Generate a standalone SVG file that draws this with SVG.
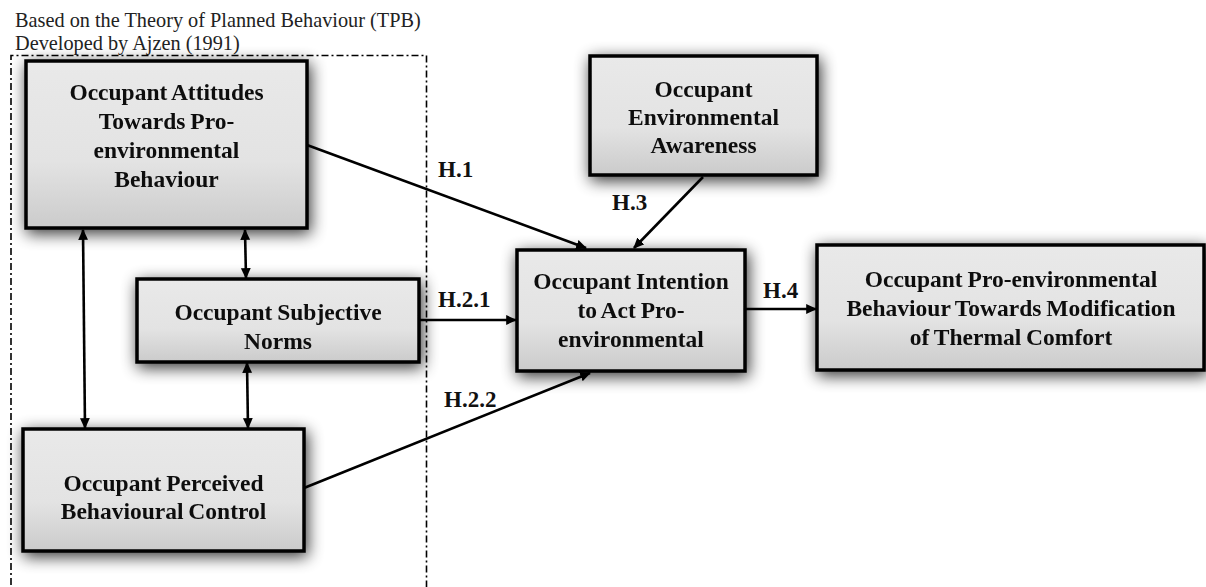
<svg xmlns="http://www.w3.org/2000/svg" width="1206" height="587" viewBox="0 0 1206 587">
<style>
.box{stroke:#000;stroke-width:3.5;fill:url(#g)}
.t{font-family:"Liberation Serif","Times New Roman",serif;font-weight:bold;font-size:23.5px;word-spacing:-1px;fill:#111;text-anchor:middle}
.lbl{font-family:"Liberation Serif","Times New Roman",serif;font-weight:bold;font-size:23px;fill:#111}
.title{font-family:"Liberation Serif","Times New Roman",serif;font-size:20.3px;fill:#222}
.c{stroke:#000;stroke-width:2.6;fill:none}
</style>
<defs>
<linearGradient id="g" x1="0" y1="0" x2="0" y2="1">
<stop offset="0" stop-color="#e9e9e9"/>
<stop offset="0.6" stop-color="#e3e3e3"/>
<stop offset="1" stop-color="#cbcbcb"/>
</linearGradient>
<filter id="sh" x="-20%" y="-30%" width="140%" height="160%">
<feGaussianBlur in="SourceAlpha" stdDeviation="8"/>
<feOffset dx="2" dy="4" result="b"/>
<feComponentTransfer><feFuncA type="linear" slope="0.8"/></feComponentTransfer>
<feMerge><feMergeNode/><feMergeNode in="SourceGraphic"/></feMerge>
</filter>
<marker id="ah" viewBox="0 0 10 10" refX="9" refY="5" markerWidth="4.2" markerHeight="4.2" orient="auto-start-reverse" markerUnits="strokeWidth">
<path d="M0,0.5 L10,5 L0,9.5 z" fill="#000"/>
</marker>
</defs>
<rect width="1206" height="587" fill="#fff"/>
<text class="title" x="15" y="27">Based on the Theory of Planned Behaviour (TPB)</text>
<text class="title" x="15" y="50">Developed by Ajzen (1991)</text>
<path d="M11,600 V55.5 H426.5 V600" fill="none" stroke="#000" stroke-width="1.6" stroke-dasharray="7,3,2,3"/>

<g id="n-attitudes" filter="url(#sh)">
<rect class="box" x="26" y="61" width="281" height="167"/>
<text class="t" x="166.5" y="100">Occupant Attitudes</text>
<text class="t" x="166.5" y="129">Towards Pro-</text>
<text class="t" x="166.5" y="158">environmental</text>
<text class="t" x="166.5" y="187">Behaviour</text>
</g>
<g id="n-norms" filter="url(#sh)">
<rect class="box" x="137" y="279" width="282" height="83"/>
<text class="t" x="278" y="320">Occupant Subjective</text>
<text class="t" x="278" y="349">Norms</text>
</g>
<g id="n-perceived" filter="url(#sh)">
<rect class="box" x="23" y="429" width="281" height="122"/>
<text class="t" x="163.5" y="491">Occupant Perceived</text>
<text class="t" x="163.5" y="519">Behavioural Control</text>
</g>
<g id="n-awareness" filter="url(#sh)">
<rect class="box" x="590" y="56" width="227" height="119"/>
<text class="t" x="703.5" y="97">Occupant</text>
<text class="t" x="703.5" y="125">Environmental</text>
<text class="t" x="703.5" y="153">Awareness</text>
</g>
<g id="n-intention" filter="url(#sh)">
<rect class="box" x="517" y="250" width="228" height="121"/>
<text class="t" x="631" y="289">Occupant Intention</text>
<text class="t" x="631" y="318">to Act Pro-</text>
<text class="t" x="631" y="347">environmental</text>
</g>
<g id="n-behaviour" filter="url(#sh)">
<rect class="box" x="817" y="245" width="387" height="125"/>
<text class="t" x="1011" y="287">Occupant Pro-environmental</text>
<text class="t" x="1011" y="316">Behaviour Towards Modification</text>
<text class="t" x="1011" y="345">of Thermal Comfort</text>
</g>

<g id="connectors">
<line class="c" x1="307" y1="145" x2="586" y2="248" marker-end="url(#ah)"/>
<line class="c" x1="703" y1="177" x2="634" y2="248" marker-end="url(#ah)"/>
<line class="c" x1="419" y1="320" x2="516" y2="320" marker-end="url(#ah)"/>
<line class="c" x1="304" y1="488" x2="590" y2="373" marker-end="url(#ah)"/>
<line class="c" x1="745" y1="309" x2="816" y2="309" marker-end="url(#ah)"/>
<line class="c" x1="83" y1="230" x2="85" y2="428" marker-start="url(#ah)" marker-end="url(#ah)"/>
<line class="c" x1="245" y1="230" x2="246" y2="278" marker-start="url(#ah)" marker-end="url(#ah)"/>
<line class="c" x1="247" y1="363" x2="248" y2="428" marker-start="url(#ah)" marker-end="url(#ah)"/>
<text class="lbl" x="438" y="177">H.1</text>
<text class="lbl" x="612" y="210">H.3</text>
<text class="lbl" x="438" y="307">H.2.1</text>
<text class="lbl" x="444" y="407">H.2.2</text>
<text class="lbl" x="763" y="298">H.4</text>
</g>
</svg>
